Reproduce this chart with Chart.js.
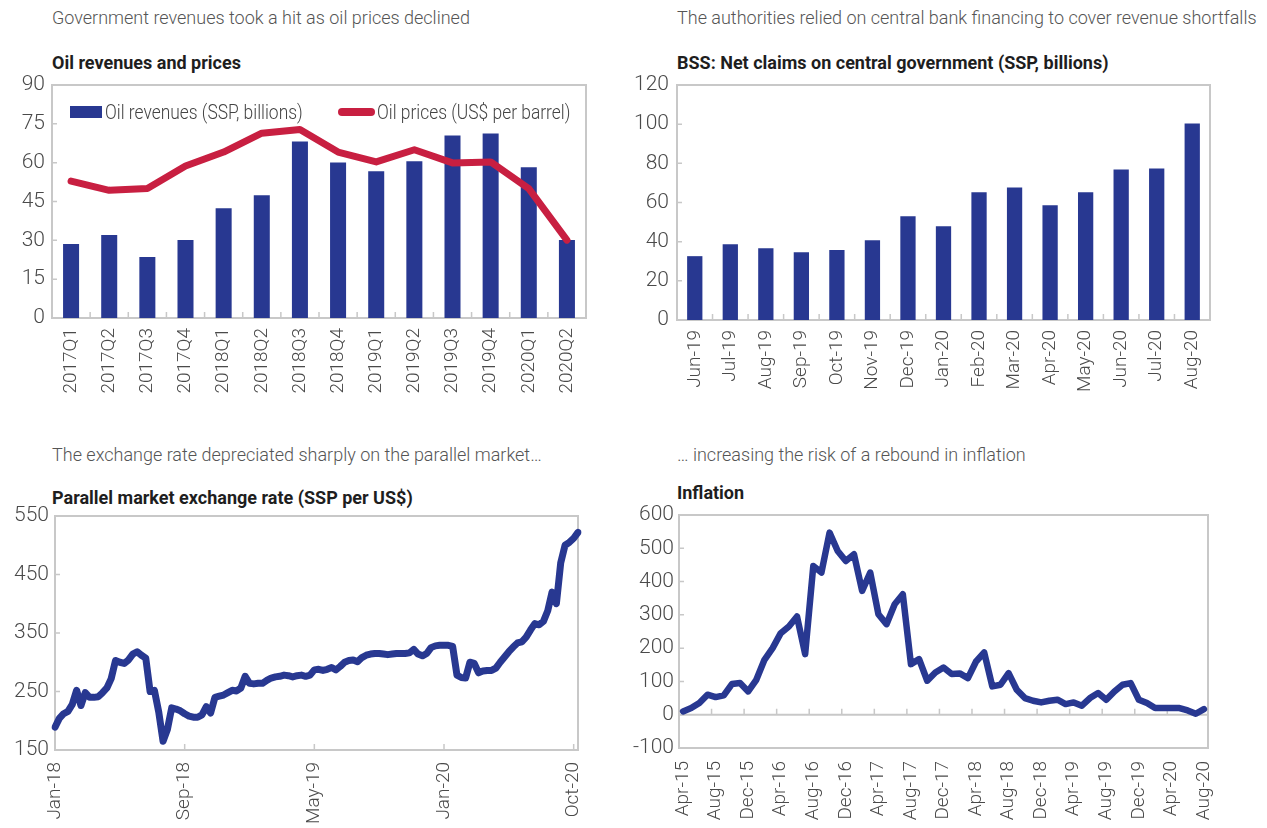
<!DOCTYPE html>
<html>
<head>
<meta charset="utf-8">
<script src="https://cdn.jsdelivr.net/npm/chart.js@4.4.1/dist/chart.umd.min.js"></script>
<style>
  body { margin: 0; background: #fff; }
  #page { position: relative; width: 1267px; height: 828px; overflow: hidden; background: #fff; }
  .sub { position: absolute; font: 300 18px Roboto, sans-serif; line-height: 18px; color: #555; white-space: nowrap; }
  .ttl { position: absolute; font: 700 18px Roboto, sans-serif; line-height: 18px; color: #1e1e1e; white-space: nowrap; }
  .leg { position: absolute; font: 300 20px Roboto, sans-serif; line-height: 20px; color: #444; white-space: nowrap;
         transform: scaleX(0.87); transform-origin: 0 50%; }
  .sw { position: absolute; }
  canvas { position: absolute; }
</style>
</head>
<body>
<div id="page">
  <div class="sub" style="left:52px;top:9px">Government revenues took a hit as oil prices declined</div>
  <div class="ttl" style="left:52px;top:54px">Oil revenues and prices</div>
  <div class="sub" style="left:677px;top:9px">The authorities relied on central bank financing to cover revenue shortfalls</div>
  <div class="ttl" style="left:677px;top:54px">BSS: Net claims on central government (SSP, billions)</div>
  <div class="sub" style="left:52px;top:446px">The exchange rate depreciated sharply on the parallel market…</div>
  <div class="ttl" style="left:52px;top:489px">Parallel market exchange rate (SSP per US$)</div>
  <div class="sub" style="left:677px;top:446px">… increasing the risk of a rebound in inflation</div>
  <div class="ttl" style="left:677px;top:484px">Inflation</div>

  <canvas id="oilChart" width="600" height="335" style="left:0;top:70px"></canvas>
  <canvas id="bssChart" width="600" height="335" style="left:630px;top:70px"></canvas>
  <canvas id="fxChart" width="600" height="328" style="left:0;top:500px"></canvas>
  <canvas id="inflChart" width="600" height="328" style="left:630px;top:500px"></canvas>

  <div class="sw" style="left:70px;top:106px;width:32px;height:12px;background:#283891"></div>
  <div class="leg" id="legBar" style="left:105px;top:102px"></div>
  <div class="sw" style="left:338px;top:108px;width:37px;height:8px;border-radius:4px;background:#c81f41"></div>
  <div class="leg" id="legLine" style="left:377px;top:102px"></div>
</div>
<script>
// Oil revenues and prices
const oilQuarters = ['2017Q1', '2017Q2', '2017Q3', '2017Q4', '2018Q1', '2018Q2', '2018Q3', '2018Q4',
                     '2019Q1', '2019Q2', '2019Q3', '2019Q4', '2020Q1', '2020Q2'];
const oilRevenues = [28.6, 32.1, 23.6, 30.1, 42.4, 47.4, 68.2, 60.1, 56.7, 60.5, 70.5, 71.3, 58.2, 30.1];
const oilPrices = [52.9, 49.3, 50.0, 58.7, 64.1, 71.4, 72.8, 64.1, 60.3, 65.0, 59.9, 60.3, 50.0, 30.1];

// BSS net claims on central government
const bssMonths = ['Jun-19', 'Jul-19', 'Aug-19', 'Sep-19', 'Oct-19', 'Nov-19', 'Dec-19', 'Jan-20',
                   'Feb-20', 'Mar-20', 'Apr-20', 'May-20', 'Jun-20', 'Jul-20', 'Aug-20'];
const bssClaims = [32.6, 38.7, 36.7, 34.6, 35.7, 40.7, 53.0, 47.9, 65.2, 67.7, 58.6, 65.2, 76.9, 77.4, 100.3];

// Parallel market exchange rate, one label every 30 observations
const fxTickLabels = ['Jan-18', 'Sep-18', 'May-19', 'Jan-20', 'Oct-20'];
const fxEvery = 30;
const fxRate = [
  189, 204, 212, 216, 228, 252, 226, 248, 240, 240,
  241, 248, 256, 272, 303, 300, 298, 304, 314, 318,
  312, 307, 250, 252, 215, 165, 185, 222, 220, 217,
  212, 208, 206, 206, 210, 224, 213, 240, 242, 244,
  248, 252, 251, 256, 276, 264, 263, 264, 264, 269,
  273, 275, 276, 278, 277, 275, 277, 278, 276, 278,
  287, 288, 286, 288, 291, 287, 293, 300, 303, 304,
  301, 308, 312, 314, 315, 315, 314, 313, 314, 315,
  315, 315, 316, 322, 314, 311, 315, 325, 328, 329,
  329, 329, 327, 278, 274, 273, 300, 298, 282, 285,
  286, 286, 290, 300, 309, 318, 326, 333, 335, 343,
  355, 366, 364, 370, 388, 420, 400, 470, 500, 505,
  512, 522
];

// Inflation, monthly Apr-15 .. Aug-20, label every 4 months
const inflTickLabels = ['Apr-15', 'Aug-15', 'Dec-15', 'Apr-16', 'Aug-16', 'Dec-16', 'Apr-17', 'Aug-17', 'Dec-17',
                        'Apr-18', 'Aug-18', 'Dec-18', 'Apr-19', 'Aug-19', 'Dec-19', 'Apr-20', 'Aug-20'];
const inflEvery = 4;
const inflation = [
  10, 20, 35, 60, 53, 58, 92, 95, 70, 105,
  165, 200, 245, 265, 295, 182, 447, 427, 547, 492,
  462, 482, 372, 427, 302, 272, 332, 362, 152, 167,
  102, 127, 142, 122, 124, 110, 160, 187, 85, 90,
  125, 75, 50, 42, 37, 42, 45, 32, 37, 27,
  50, 65, 45, 70, 90, 95, 45, 35, 20, 20,
  20, 20, 13, 3, 17
];

const blue = '#283891';
const red = '#c81f41';
const xFont = { family: 'Roboto, sans-serif', size: 19, weight: 300 };
const yFont = { family: 'Roboto, sans-serif', size: 21, weight: 300 };
const tickColor = '#4a4a4a';

// plot frame plus short inner tick marks
const framePlugin = {
    id: 'frame',
    beforeDatasetsDraw(chart, args, o) {
        const { ctx, chartArea: a, scales: { x, y } } = chart;
        ctx.save();
        ctx.strokeStyle = '#c8c8c8';
        ctx.lineWidth = 2;
        ctx.strokeRect(a.left, a.top, a.right - a.left, a.bottom - a.top);
        const base = o.zero ? y.getPixelForValue(0) : a.bottom;
        if (o.zero) {
            ctx.beginPath();
            ctx.moveTo(a.left, base);
            ctx.lineTo(a.right, base);
            ctx.stroke();
        }
        ctx.lineWidth = 1.5;
        ctx.beginPath();
        y.ticks.forEach(t => {
            const py = y.getPixelForValue(t.value);
            ctx.moveTo(a.left, py);
            ctx.lineTo(a.left + 5, py);
        });
        const n = x.getLabels().length;
        for (let i = o.step; i < n; i += o.step) {
            const px = o.between ? (x.getPixelForValue(i - 1) + x.getPixelForValue(i)) / 2 : x.getPixelForValue(i);
            ctx.moveTo(px, base);
            ctx.lineTo(px, base - 6);
        }
        ctx.stroke();
        ctx.restore();
    }
};

function makeOptions(c) {
    return {
        responsive: false,
        animation: false,
        devicePixelRatio: 1,
        layout: { padding: c.padding },
        plugins: {
            legend: { display: false },
            tooltip: { enabled: false },
            frame: c.frame
        },
        scales: {
            x: {
                offset: c.offset,
                grid: { display: false, drawTicks: false },
                border: { display: false },
                ticks: { font: xFont, color: tickColor, autoSkip: false, maxRotation: 90, minRotation: 90, padding: c.xPad },
                afterFit: s => { s.height = c.xHeight; s.paddingLeft = 0; s.paddingRight = 0; }
            },
            y: {
                min: c.min,
                max: c.max,
                grid: { display: false, drawTicks: false },
                border: { display: false },
                ticks: { stepSize: c.step, font: yFont, color: tickColor, padding: c.yPad },
                afterFit: s => { s.width = c.yWidth; s.paddingTop = 0; s.paddingBottom = 0; }
            }
        }
    };
}

document.addEventListener('DOMContentLoaded', function() {
    // Oil revenues and prices
    const oilData = {
        labels: oilQuarters,
        datasets: [{
            type: 'line',
            label: 'Oil prices (US$ per barrel)',
            data: oilPrices,
            borderColor: red,
            borderWidth: 7,
            pointRadius: 0,
            tension: 0,
            borderJoinStyle: 'round',
            borderCapStyle: 'round',
            order: 0
        }, {
            type: 'bar',
            label: 'Oil revenues (SSP, billions)',
            data: oilRevenues,
            backgroundColor: blue,
            barPercentage: 0.42,
            categoryPercentage: 1,
            order: 1
        }]
    };
    new Chart(document.getElementById('oilChart'), {
        type: 'bar',
        data: oilData,
        options: makeOptions({
            padding: { top: 15, right: 14, bottom: 0, left: 0 },
            offset: true, min: 0, max: 90, step: 15,
            xPad: 10, xHeight: 87, yPad: 7, yWidth: 52,
            frame: { step: 1, between: true }
        }),
        plugins: [framePlugin]
    });
    document.getElementById('legBar').textContent = oilData.datasets[1].label;
    document.getElementById('legLine').textContent = oilData.datasets[0].label;

    // BSS net claims
    new Chart(document.getElementById('bssChart'), {
        type: 'bar',
        data: {
            labels: bssMonths,
            datasets: [{
                label: 'Net claims on central government',
                data: bssClaims,
                backgroundColor: blue,
                barPercentage: 0.43,
                categoryPercentage: 1
            }]
        },
        options: makeOptions({
            padding: { top: 15, right: 20, bottom: 0, left: 0 },
            offset: true, min: 0, max: 120, step: 20,
            xPad: 10, xHeight: 85, yPad: 8, yWidth: 47,
            frame: { step: 1, between: true }
        }),
        plugins: [framePlugin]
    });

    // Parallel market exchange rate
    const fxLabels = fxRate.map((v, i) => i % fxEvery === 0 ? fxTickLabels[i / fxEvery] : '');
    new Chart(document.getElementById('fxChart'), {
        type: 'line',
        data: {
            labels: fxLabels,
            datasets: [{
                label: 'SSP per US$',
                data: fxRate,
                borderColor: blue,
                borderWidth: 7,
                pointRadius: 0,
                tension: 0,
                borderJoinStyle: 'round',
                borderCapStyle: 'round'
            }]
        },
        options: makeOptions({
            padding: { top: 16, right: 22, bottom: 0, left: 0 },
            offset: false, min: 150, max: 550, step: 100,
            xPad: 12, xHeight: 78, yPad: 6, yWidth: 55,
            frame: { step: fxEvery, between: false }
        }),
        plugins: [framePlugin]
    });

    // Inflation
    const inflLabels = inflation.map((v, i) => i % inflEvery === 0 ? inflTickLabels[i / inflEvery] : '');
    new Chart(document.getElementById('inflChart'), {
        type: 'line',
        data: {
            labels: inflLabels,
            datasets: [{
                label: 'Inflation',
                data: inflation,
                borderColor: blue,
                borderWidth: 6.5,
                pointRadius: 0,
                tension: 0,
                borderJoinStyle: 'round',
                borderCapStyle: 'round'
            }]
        },
        options: makeOptions({
            padding: { top: 15, right: 22, bottom: 0, left: 0 },
            offset: true, min: -100, max: 600, step: 100,
            xPad: 13, xHeight: 80, yPad: 5, yWidth: 49,
            frame: { step: inflEvery, between: true, zero: true }
        }),
        plugins: [framePlugin]
    });
});
</script>
</body>
</html>
